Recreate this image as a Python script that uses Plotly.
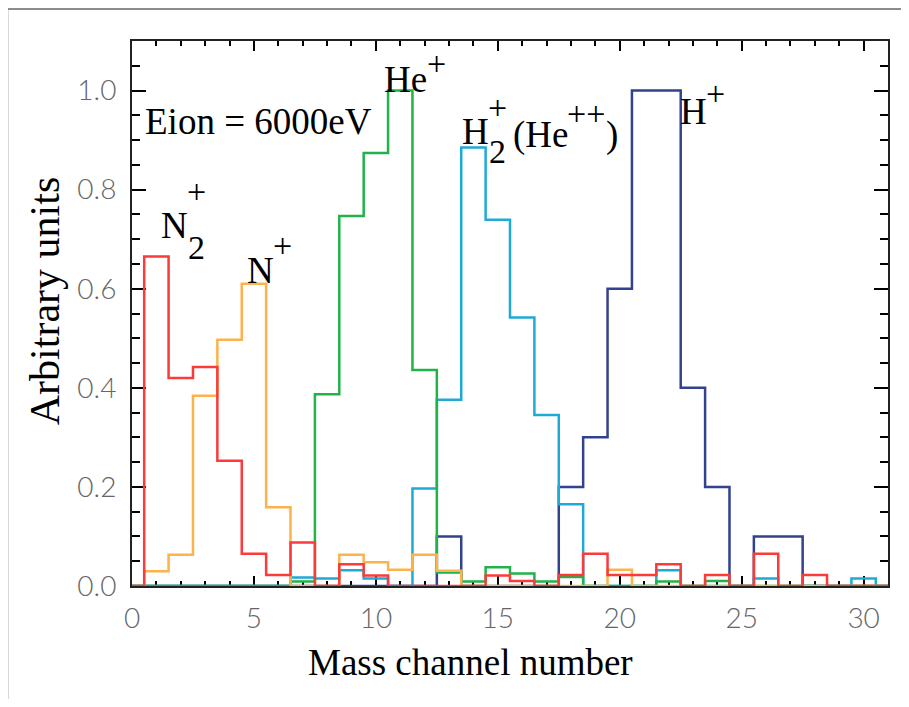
import plotly.graph_objects as go

# ---------------- data ----------------
channels = list(range(0, 32))
n2_plus = [0, 0.665, 0.42, 0.442, 0.253, 0.065, 0.022, 0.088, 0, 0.044, 0.021, 0, 0, 0, 0, 0.021,
           0.010, 0, 0.022, 0.065, 0.022, 0.022, 0.044, 0, 0.022, 0, 0.065, 0, 0.022, 0, 0, 0]
n_plus = [0, 0.03, 0.063, 0.384, 0.497, 0.61, 0.159, 0, 0, 0.063, 0.048, 0.033, 0.063, 0.031, 0, 0,
          0, 0, 0, 0, 0.033, 0, 0, 0, 0, 0, 0, 0, 0, 0, 0, 0]
he_plus = [0, 0, 0, 0, 0, 0, 0, 0.009, 0.387, 0.747, 0.874, 1.0, 0.436, 0.027, 0.009, 0.038,
           0.025, 0.009, 0.018, 0, 0, 0, 0.009, 0, 0.010, 0, 0, 0, 0, 0, 0, 0]
h2_plus = [0, 0, 0, 0, 0, 0, 0, 0.017, 0.015, 0.032, 0.015, 0, 0.197, 0.376, 0.885, 0.739,
           0.542, 0.345, 0.165, 0, 0, 0, 0.032, 0, 0, 0, 0.015, 0, 0, 0, 0.015, 0]
h_plus = [0, 0, 0, 0, 0, 0, 0, 0, 0, 0, 0, 0, 0, 0.1, 0, 0,
          0, 0, 0.2, 0.3, 0.6, 1.0, 1.0, 0.4, 0.2, 0, 0.1, 0.1, 0, 0, 0, 0]

series = [
    ("H+", h_plus, "#33428f"),
    ("H2+", h2_plus, "#1faad6"),
    ("He+", he_plus, "#22b24a"),
    ("N+", n_plus, "#fdb24c"),
    ("N2+", n2_plus, "#fb3a3a"),
]

fig = go.Figure()
for name, vals, col in series:
    fig.add_trace(go.Scatter(x=channels, y=vals, mode="lines", name=name,
                             line=dict(color=col, width=2.5, shape="hvh"),
                             showlegend=False))

# ---------------- layout ----------------
# page geometry (the page body has an 8px margin)
BODY = 8
W, H = 909 - 2 * BODY, 707 - 2 * BODY
PL, PT, PW, PH = 132, 41, 758, 545          # plot area in page pixels
L, T = PL - BODY, PT - BODY
R, B = W - L - PW, H - T - PH

def px2paper(px, py):
    return (px - PL) / PW, (PT + PH - py) / PH

annotations = []
def ann(text, px, py, size=37, xanchor="center", yanchor="middle", angle=0, family="Liberation Serif"):
    xp, yp = px2paper(px, py)
    annotations.append(dict(text=text, x=xp, y=yp, xref="paper", yref="paper",
                            xanchor=xanchor, yanchor=yanchor, showarrow=False,
                            textangle=angle,
                            font=dict(family=family, size=size, color="black")))

SUP = 34
ann("Eion = 6000eV", 143, 122, xanchor="left")
ann("N", 175, 225); ann("2", 197, 248, size=SUP); ann("+", 197, 192, size=SUP)
ann("N", 261, 270); ann("+", 283, 246, size=SUP)
ann("He", 406, 79); ann("+", 437, 63, size=SUP)
ann("H", 476, 132); ann("2", 498, 151, size=SUP); ann("+", 498, 108, size=SUP)
ann("(He", 512, 135, xanchor="left"); ann("++", 587, 114, size=SUP); ann(")", 613, 135)
ann("H", 695, 112); ann("+", 717, 93, size=SUP)
ann("Mass channel number", 471, 662, size=37)
ann("Arbitrary units", 45, 301, size=42, angle=-90)

shapes = []
fx0, fy0 = px2paper(7, 9)
fx1, fy1 = px2paper(915, 715)
shapes.append(dict(type="line", xref="paper", yref="paper", x0=fx0, x1=fx0, y0=fy0, y1=fy1,
                   line=dict(color="#8c8c8c", width=2)))
shapes.append(dict(type="line", xref="paper", yref="paper", x0=fx0, x1=fx1, y0=fy0, y1=fy0,
                   line=dict(color="#8c8c8c", width=2)))

tickfont = dict(family="Lato", size=28, color="#666666", weight=300)

fig.update_layout(
    width=W, height=H,
    margin=dict(l=L, r=R, t=T, b=B, pad=0),
    paper_bgcolor="white", plot_bgcolor="white",
    annotations=annotations, shapes=shapes,
    xaxis=dict(range=[0, 31], tick0=0, dtick=5, ticks="inside", ticklen=10, tickwidth=1.5,
               tickcolor="black", showline=True, linecolor="#222222", linewidth=2,
               mirror="ticks", showgrid=False, zeroline=False, layer="below traces",
               tickfont=tickfont, ticklabelstandoff=6,
               minor=dict(ticks="inside", dtick=1, ticklen=5, tickwidth=1.5, tickcolor="black",
                          showgrid=False)),
    yaxis=dict(range=[0, 1.1], tick0=0, dtick=0.2, tickformat=".1f", ticks="inside", ticklen=14,
               tickwidth=1.5, tickcolor="black", showline=True, linecolor="#222222", linewidth=2,
               mirror="ticks", showgrid=False, zeroline=False, layer="below traces",
               tickfont=tickfont, ticklabelstandoff=8,
               minor=dict(ticks="inside", dtick=0.05, ticklen=8, tickwidth=1.5, tickcolor="black",
                          showgrid=False)),
)

fig.write_html("out.html")
